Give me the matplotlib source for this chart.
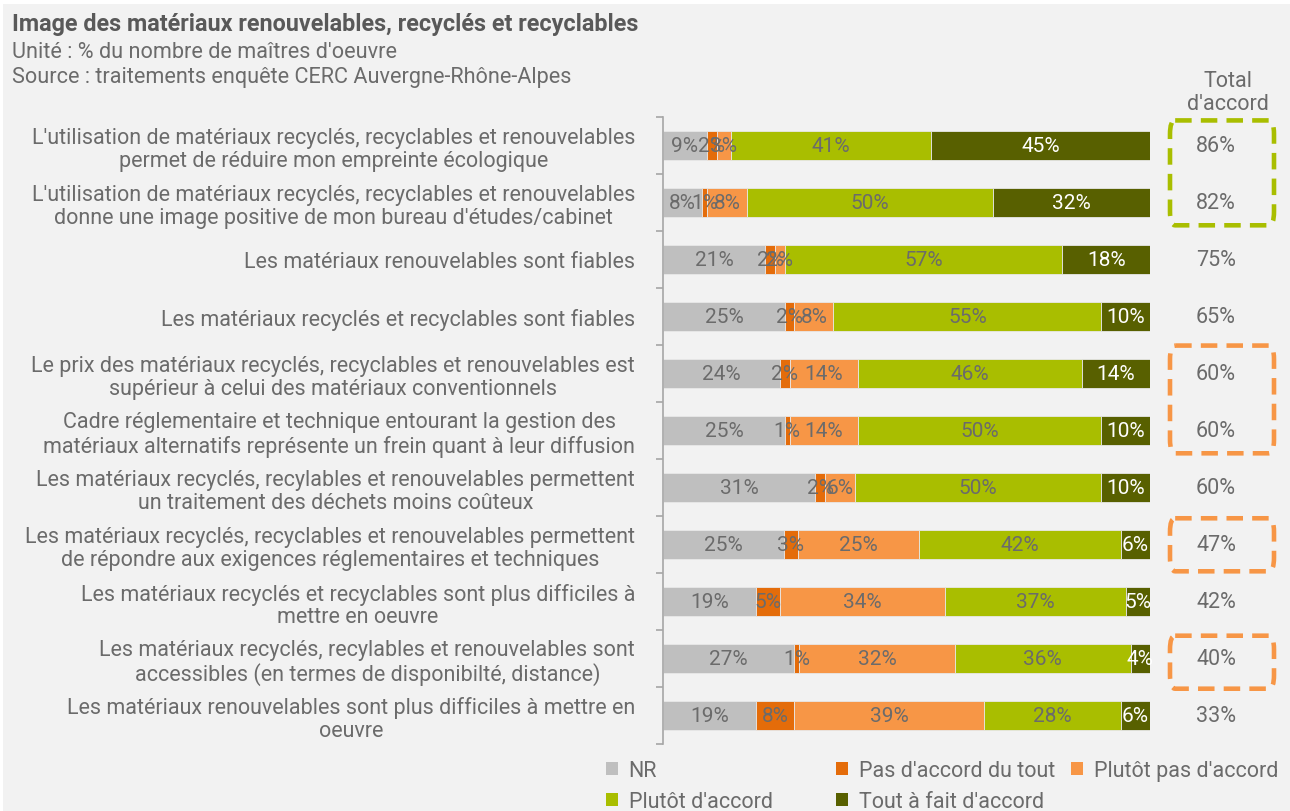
import matplotlib
matplotlib.use("Agg")
import matplotlib.pyplot as plt
from matplotlib.patches import Rectangle, FancyBboxPatch
from matplotlib.transforms import blended_transform_factory
import numpy as np

plt.rcParams['font.family'] = ['Roboto', 'DejaVu Sans']

categories = [
    "L'utilisation de matériaux recyclés, recyclables et renouvelables\npermet de réduire mon empreinte écologique",
    "L'utilisation de matériaux recyclés, recyclables et renouvelables\ndonne une image positive de mon bureau d'études/cabinet",
    "Les matériaux renouvelables sont fiables",
    "Les matériaux recyclés et recyclables sont fiables",
    "Le prix des matériaux recyclés, recyclables et renouvelables est\nsupérieur à celui des matériaux conventionnels",
    "Cadre réglementaire et technique entourant la gestion des\nmatériaux alternatifs représente un frein quant à leur diffusion",
    "Les matériaux recyclés, recylables et renouvelables permettent\nun traitement des déchets moins coûteux",
    "Les matériaux recyclés, recyclables et renouvelables permettent\nde répondre aux exigences réglementaires et techniques",
    "Les matériaux recyclés et recyclables sont plus difficiles à\nmettre en oeuvre",
    "Les matériaux recyclés, recylables et renouvelables sont\naccessibles (en termes de disponibilté, distance)",
    "Les matériaux renouvelables sont plus difficiles à mettre en\noeuvre",
]

series_names = ["NR", "Pas d'accord du tout", "Plutôt pas d'accord",
                "Plutôt d'accord", "Tout à fait d'accord"]

nr = [9, 8, 21, 25, 24, 25, 31, 25, 19, 27, 19]
pas_du_tout = [2, 1, 2, 2, 2, 1, 2, 3, 5, 1, 8]
plutot_pas = [3, 8, 2, 8, 14, 14, 6, 25, 34, 32, 39]
plutot_accord = [41, 50, 57, 55, 46, 50, 50, 42, 37, 36, 28]
tout_a_fait = [45, 32, 18, 10, 14, 10, 10, 6, 5, 4, 6]

total_accord = [86, 82, 75, 65, 60, 60, 60, 47, 42, 40, 33]

colors = ["#BFBFBF", "#E46C0A", "#F79646", "#A9BE00", "#586000"]
label_colors = ["#6B6B6B", "#6B6B6B", "#6B6B6B", "#6B6B6B", "#FFFFFF"]

TXT = "#6B6B6B"
BG = "#F2F2F2"

fig = plt.figure(figsize=(12.9, 8.12), dpi=100, facecolor="white")
fig.patches.append(Rectangle((3 / 1290, 0), 1, (812 - 5) / 812,
                             transform=fig.transFigure, facecolor=BG,
                             edgecolor="none", zorder=-10))

ax = fig.add_axes([663 / 1290, 1 - 745 / 812, (1150 - 663) / 1290, (745 - 118) / 812])
ax.set_facecolor("none")

data = np.array([nr, pas_du_tout, plutot_pas, plutot_accord, tout_a_fait], dtype=float)
totals = data.sum(axis=0)
shares = data / totals * 100
y = np.arange(len(categories))
left = np.zeros(len(categories))
for i, name in enumerate(series_names):
    ax.barh(y, shares[i], left=left, height=0.5, color=colors[i],
            edgecolor="#E8E8E8", linewidth=0.6, label=name)
    for j in range(len(categories)):
        ax.text(left[j] + shares[i][j] / 2, y[j], f"{int(data[i][j])}%",
                ha="center", va="center", fontsize=15, color=label_colors[i])
    left += shares[i]

ax.set_xlim(0, 100)
ax.set_ylim(len(categories) - 0.5, -0.5)
ax.set_xticks([])
ax.set_yticks(np.arange(-0.5, len(categories), 1.0))
ax.set_yticklabels([])
ax.set_yticks(y, minor=True)
ax.set_yticklabels(categories, minor=True, fontsize=15.5, color=TXT,
                   multialignment="center", linespacing=1.12)
ax.tick_params(axis="y", which="minor", length=0, pad=20)
ax.tick_params(axis="y", which="major", length=5, color="#A6A6A6", width=1.2)
for s in ["top", "right", "bottom"]:
    ax.spines[s].set_visible(False)
ax.spines["left"].set_color("#A6A6A6")
ax.spines["left"].set_linewidth(1.2)

# Total d'accord column
bt = blended_transform_factory(fig.transFigure, ax.transData)
fig.text(1228 / 1290, 1 - 93 / 812, "Total\nd'accord", ha="center", va="center",
         fontsize=15.5, color=TXT, linespacing=1.12)
for j, v in enumerate(total_accord):
    ax.text(1216 / 1290, y[j], f"{v}%", transform=bt, ha="center", va="center",
            fontsize=15.5, color=TXT, clip_on=False)

# Dashed highlight boxes
boxes = [(0, 1, "#A9BE00", -0.44, 0.40), (4, 5, "#F79646", -0.49, 0.40),
         (7, 7, "#F79646", -0.46, 0.47), (9, 9, "#F79646", -0.40, 0.53)]
for r0, r1, c, a, b in boxes:
    y0 = r0 + a
    y1 = r1 + b
    p = FancyBboxPatch((1170 / 1290, y0), (1274 - 1170) / 1290, y1 - y0,
                       boxstyle="round,pad=0,rounding_size=0.004",
                       transform=bt, facecolor="none", edgecolor=c,
                       linewidth=3.3, linestyle=(0, (3.6, 2.0)), clip_on=False,
                       mutation_aspect=60)
    ax.add_patch(p)

# Title
fig.text(12 / 1290, 1 - 25 / 812, "Image des matériaux renouvelables, recyclés et recyclables",
         fontsize=16.8, fontweight="bold", color="#595959", ha="left", va="center")
fig.text(12 / 1290, 1 - 53 / 812, "Unité : % du nombre de maîtres d'oeuvre",
         fontsize=15.6, color=TXT, ha="left", va="center")
fig.text(12 / 1290, 1 - 78 / 812, "Source : traitements enquête CERC Auvergne-Rhône-Alpes",
         fontsize=15.6, color=TXT, ha="left", va="center")

# Legend (manual columns)
handles, labels = ax.get_legend_handles_labels()
cols = [([0, 3], 606), ([1, 4], 836), ([2], 1071)]
for idx, xpx in cols:
    leg = fig.legend([handles[k] for k in idx], [labels[k] for k in idx],
                     loc="upper left", bbox_to_anchor=(xpx / 1290, 1 - 761 / 812),
                     frameon=False, fontsize=15.5, labelcolor=TXT,
                     handlelength=0.55, handleheight=0.55, handletextpad=0.5,
                     labelspacing=0.45, borderaxespad=0, borderpad=0)
    for h in leg.legend_handles:
        h.set_edgecolor("none")

fig.savefig("out.png", dpi=100, facecolor=fig.get_facecolor())
